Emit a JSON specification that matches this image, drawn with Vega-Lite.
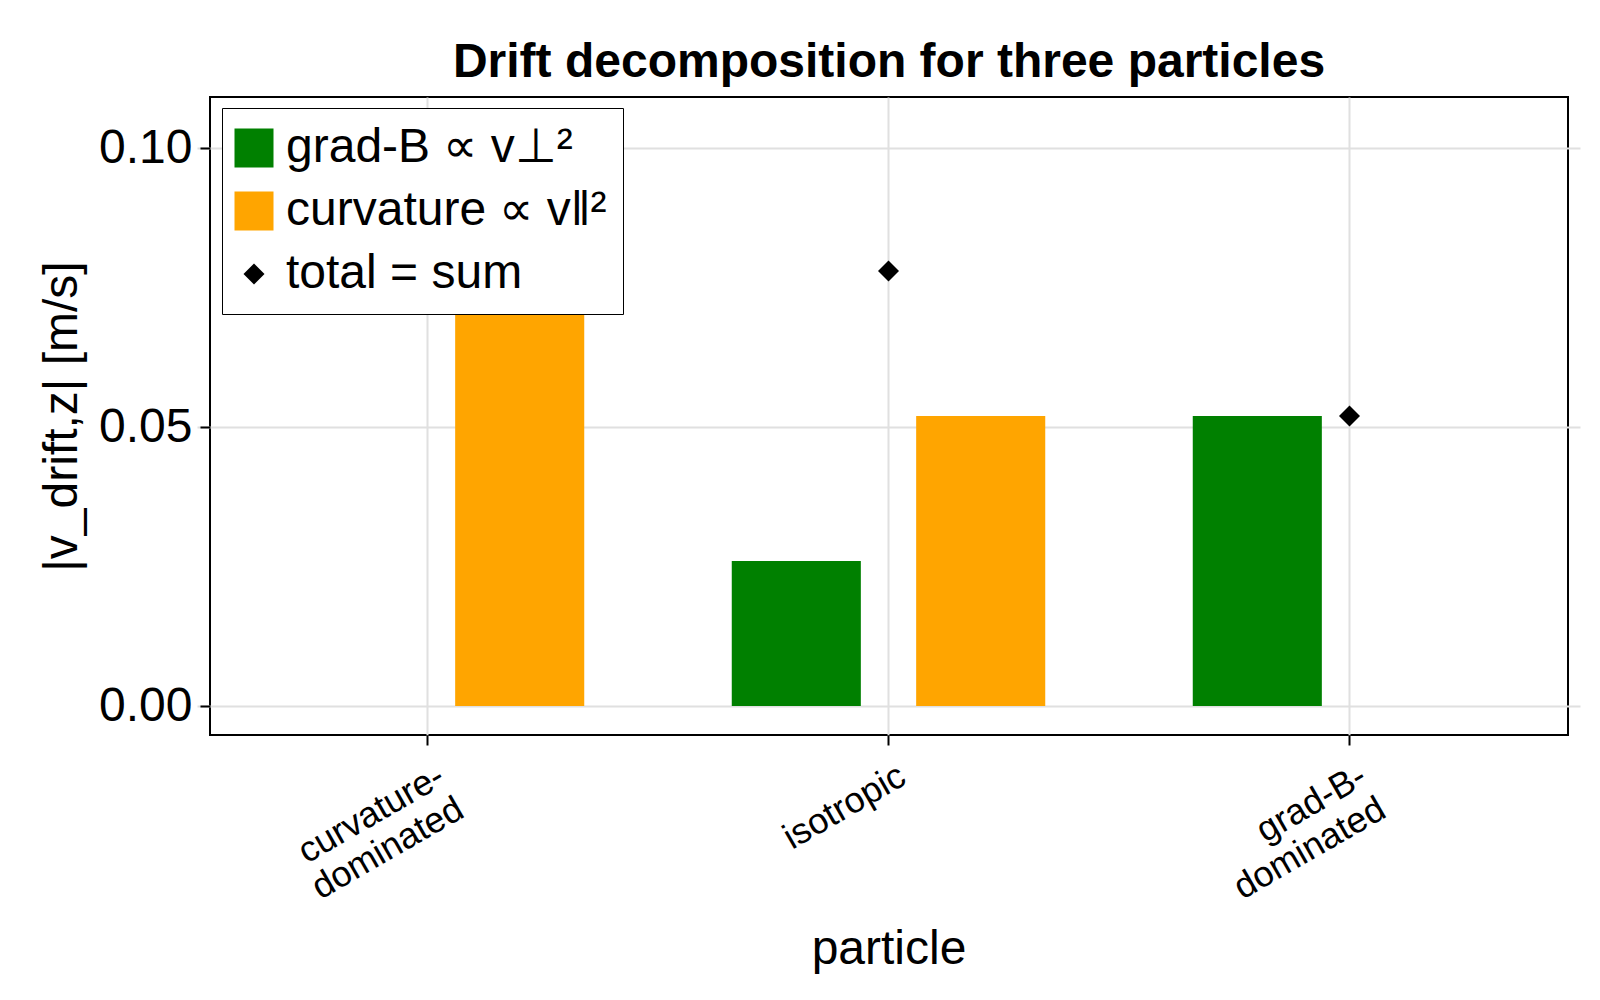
{
  "$schema": "https://vega.github.io/schema/vega-lite/v6.json",
  "width": 1358,
  "height": 638,
  "autosize": {"type": "none"},
  "padding": {"left": 210, "top": 97, "right": 32, "bottom": 265},
  "background": "white",
  "title": {
    "text": "Drift decomposition for three particles",
    "font": "Liberation Sans",
    "fontSize": 48,
    "fontWeight": "bold",
    "color": "black",
    "anchor": "middle",
    "offset": 10
  },
  "config": {
    "view": {"stroke": "black", "strokeWidth": 2},
    "axis": {
      "labelFont": "Liberation Sans",
      "titleFont": "Liberation Sans",
      "labelColor": "black",
      "titleColor": "black",
      "titleFontWeight": "normal",
      "labelLimit": 0,
      "domain": false,
      "grid": true,
      "gridColor": "#e0e0e0",
      "gridWidth": 2,
      "tickColor": "black",
      "tickWidth": 2,
      "tickSize": 10
    },
    "legend": {
      "labelFont": "Liberation Sans",
      "labelFontSize": 48,
      "labelColor": "black",
      "labelLimit": 0
    }
  },
  "data": {
    "values": [
      {"particle": "curvature-dominated", "series": "grad-B ∝ v⊥²", "value": 0.0},
      {"particle": "curvature-dominated", "series": "curvature ∝ v‖²", "value": 0.104},
      {"particle": "curvature-dominated", "series": "total = sum", "value": 0.104},
      {"particle": "isotropic", "series": "grad-B ∝ v⊥²", "value": 0.026},
      {"particle": "isotropic", "series": "curvature ∝ v‖²", "value": 0.052},
      {"particle": "isotropic", "series": "total = sum", "value": 0.078},
      {"particle": "grad-B-dominated", "series": "grad-B ∝ v⊥²", "value": 0.052},
      {"particle": "grad-B-dominated", "series": "curvature ∝ v‖²", "value": 0.0},
      {"particle": "grad-B-dominated", "series": "total = sum", "value": 0.052}
    ]
  },
  "encoding": {
    "x": {
      "field": "particle",
      "type": "nominal",
      "sort": ["curvature-dominated", "isotropic", "grad-B-dominated"],
      "scale": {"range": [-13, 1370], "paddingInner": 0, "paddingOuter": 0},
      "axis": {
        "title": "particle",
        "titleFontSize": 48,
        "titlePadding": 20,
        "labelFontSize": 36,
        "labelAngle": -30,
        "labelAlign": "right",
        "labelBaseline": "middle",
        "labelPadding": 28,
        "labelOffset": 14,
        "bandPosition": 0.5,
        "labelExpr": "datum.value == 'curvature-dominated' ? ['curvature-', 'dominated'] : datum.value == 'grad-B-dominated' ? ['grad-B-', 'dominated'] : datum.label"
      }
    },
    "y": {
      "field": "value",
      "type": "quantitative",
      "scale": {"domain": [-0.0052, 0.1092], "nice": false, "zero": false},
      "axis": {
        "title": "|v_drift,z| [m/s]",
        "titleFontSize": 48,
        "titlePadding": 12,
        "labelFontSize": 48,
        "labelPadding": 8,
        "values": [0, 0.05, 0.1],
        "format": ".2f"
      }
    },
    "color": {
      "field": "series",
      "type": "nominal",
      "scale": {
        "domain": ["grad-B ∝ v⊥²", "curvature ∝ v‖²", "total = sum"],
        "range": ["#008000", "#FFA500", "#000000"]
      },
      "legend": {
        "title": null,
        "orient": "none",
        "legendX": 12,
        "legendY": 11,
        "strokeColor": "black",
        "fillColor": "white",
        "padding": 16,
        "rowPadding": 15,
        "labelOffset": 8,
        "symbolOffset": -8
      }
    }
  },
  "layer": [
    {
      "transform": [{"filter": "datum.series != 'total = sum'"}],
      "mark": {"type": "bar", "strokeWidth": 0},
      "encoding": {
        "xOffset": {
          "field": "series",
          "type": "nominal",
          "scale": {
            "domain": ["grad-B ∝ v⊥²", "curvature ∝ v‖²"],
            "paddingInner": 0.3,
            "paddingOuter": 0.4
          }
        },
        "y2": {"datum": 0}
      }
    },
    {
      "transform": [{"filter": "datum.series == 'total = sum'"}],
      "mark": {"type": "point", "filled": true, "opacity": 1},
      "encoding": {
        "shape": {
          "field": "series",
          "type": "nominal",
          "scale": {
            "domain": ["grad-B ∝ v⊥²", "curvature ∝ v‖²", "total = sum"],
            "range": ["square", "square", "diamond"]
          },
          "legend": {"title": null}
        },
        "size": {
          "field": "series",
          "type": "nominal",
          "scale": {
            "type": "ordinal",
            "domain": ["grad-B ∝ v⊥²", "curvature ∝ v‖²", "total = sum"],
            "range": [1521, 1521, 441]
          },
          "legend": {"title": null}
        }
      }
    }
  ]
}
